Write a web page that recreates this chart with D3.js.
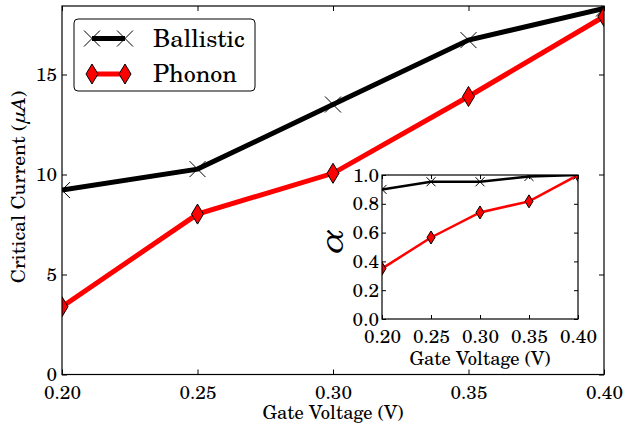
<!DOCTYPE html>
<html>
<head>
<meta charset="utf-8">
<script src="https://cdn.jsdelivr.net/npm/d3@7"></script>
<style>
  body { margin: 0; background: #fff; }
  svg text { font-family: "TeX Gyre Schola", "DejaVu Serif", serif; fill: #000; }
</style>
</head>
<body>
<svg id="chart" width="626" height="429"></svg>
<script>
const gateVoltage = [0.20, 0.25, 0.30, 0.35, 0.40];
const ballistic = [9.22, 10.27, 13.5, 16.72, 18.3];
const phonon = [3.39, 8.02, 10.06, 13.9, 17.9];
const alphaBallistic = [0.90, 0.953, 0.953, 0.99, 1.0];
const alphaPhonon = [0.35, 0.566, 0.74, 0.817, 1.0];
const xTicks = [0.20, 0.25, 0.30, 0.35, 0.40];
const yTicks = [0, 5, 10, 15];
const alphaTicks = [0.0, 0.2, 0.4, 0.6, 0.8, 1.0];

const FONT = '"TeX Gyre Schola", "DejaVu Serif", serif';
const svg = d3.select("#chart");

function drawPanel(opts) {
    const x = d3.scaleLinear().domain([0.20, 0.40]).range([opts.left, opts.right]);
    const y = d3.scaleLinear().domain(opts.yDomain).range([opts.bottom, opts.top]);
    const w = opts.right - opts.left, h = opts.bottom - opts.top;

    svg.append("rect")
        .attr("x", opts.left).attr("y", opts.top)
        .attr("width", w).attr("height", h)
        .attr("fill", "#fff");

    const clipId = opts.id + "-clip";
    svg.append("clipPath").attr("id", clipId)
        .append("rect")
        .attr("x", opts.left).attr("y", opts.top)
        .attr("width", w).attr("height", h);

    const plot = svg.append("g").attr("clip-path", `url(#${clipId})`);

    // ticks point inwards on all four sides
    const tl = opts.tickLen;
    const bottomAxis = d3.axisBottom(x).tickValues(xTicks).tickSize(-tl).tickPadding(opts.xPad).tickFormat(d3.format(".2f"));
    const topAxis = d3.axisTop(x).tickValues(xTicks).tickSize(-tl).tickFormat("");
    const leftAxis = d3.axisLeft(y).tickValues(opts.yTicks).tickSize(-tl).tickPadding(opts.yPad).tickFormat(opts.yFormat);
    const rightAxis = d3.axisRight(y).tickValues(opts.yTicks).tickSize(-tl).tickFormat("");

    const axes = [
        [bottomAxis, `translate(0,${opts.bottom})`],
        [topAxis, `translate(0,${opts.top})`],
        [leftAxis, `translate(${opts.left},0)`],
        [rightAxis, `translate(${opts.right},0)`]
    ];
    axes.forEach(([ax, tr]) => {
        const g = svg.append("g").attr("transform", tr).call(ax);
        g.select(".domain").remove();
        g.selectAll("line").attr("stroke", "#000").attr("stroke-width", 1);
        g.selectAll("text")
            .style("font-family", FONT)
            .style("font-size", "19px");
    });

    const line = d3.line().x((d, i) => x(gateVoltage[i])).y(d => y(d));

    plot.append("path").datum(opts.black)
        .attr("d", line).attr("fill", "none")
        .attr("stroke", "#000").attr("stroke-width", opts.lw);
    plot.append("path").datum(opts.red)
        .attr("d", line).attr("fill", "none")
        .attr("stroke", "#ff0000").attr("stroke-width", opts.lw);

    const xs = opts.xSize;
    plot.selectAll(null).data(opts.black).enter().append("path")
        .attr("transform", (d, i) => `translate(${x(gateVoltage[i])},${y(d)})`)
        .attr("d", `M${-xs},${-xs}L${xs},${xs}M${-xs},${xs}L${xs},${-xs}`)
        .attr("stroke", "#000").attr("stroke-width", 1).attr("fill", "none");

    const dw = opts.dW, dh = opts.dH;
    plot.selectAll(null).data(opts.red).enter().append("path")
        .attr("transform", (d, i) => `translate(${x(gateVoltage[i])},${y(d)})`)
        .attr("d", `M0,${-dh}L${dw},0L0,${dh}L${-dw},0Z`)
        .attr("fill", "#ff0000").attr("stroke", "#000").attr("stroke-width", 1);

    svg.append("rect")
        .attr("x", opts.left).attr("y", opts.top)
        .attr("width", w).attr("height", h)
        .attr("fill", "none").attr("stroke", "#000").attr("stroke-width", 1.2);

    return { x, y };
}

// main axes
drawPanel({
    id: "main", left: 62, right: 604, top: 6, bottom: 374.5,
    yDomain: [0, 18.425], yTicks: yTicks, yFormat: d3.format("d"),
    black: ballistic, red: phonon, lw: 5, xSize: 8, dW: 6, dH: 10,
    tickLen: 5, xPad: 11, yPad: 5
});

// main labels
svg.append("text")
    .attr("x", 333).attr("y", 419)
    .attr("text-anchor", "middle")
    .style("font-size", "18.5px")
    .text("Gate Voltage (V)");

const yl = svg.append("text")
    .attr("transform", "translate(24.5,187) rotate(-90)")
    .attr("text-anchor", "middle")
    .style("font-size", "19.5px");
yl.append("tspan").text("Critical Current (");
yl.append("tspan").style("font-style", "italic").text("μA");
yl.append("tspan").text(")");

// legend
const legend = svg.append("g");
legend.append("rect")
    .attr("x", 74).attr("y", 19).attr("width", 181).attr("height", 72)
    .attr("rx", 4).attr("fill", "#fff").attr("stroke", "#000").attr("stroke-width", 1);

const legendItems = [
    { label: "Ballistic", color: "#000", marker: "x", yPos: 38.5, base: 46.7 },
    { label: "Phonon", color: "#ff0000", marker: "d", yPos: 74, base: 81.7 }
];
legendItems.forEach(item => {
    legend.append("line")
        .attr("x1", 92).attr("x2", 125)
        .attr("y1", item.yPos).attr("y2", item.yPos)
        .attr("stroke", item.color).attr("stroke-width", 5);
    [92, 125].forEach(px => {
        if (item.marker === "x") {
            legend.append("path")
                .attr("d", `M${px - 8},${item.yPos - 8}L${px + 8},${item.yPos + 8}M${px - 8},${item.yPos + 8}L${px + 8},${item.yPos - 8}`)
                .attr("stroke", "#000").attr("stroke-width", 1);
        } else {
            legend.append("path")
                .attr("d", `M${px},${item.yPos - 10}L${px + 6},${item.yPos}L${px},${item.yPos + 10}L${px - 6},${item.yPos}Z`)
                .attr("fill", "#ff0000").attr("stroke", "#000").attr("stroke-width", 1);
        }
    });
    legend.append("text")
        .attr("x", 153).attr("y", item.base)
        .style("font-size", "24px")
        .text(item.label);
});

// inset
drawPanel({
    id: "inset", left: 382, right: 578, top: 175, bottom: 319,
    yDomain: [0, 1], yTicks: alphaTicks, yFormat: d3.format(".1f"),
    black: alphaBallistic, red: alphaPhonon, lw: 2.5, xSize: 4.5, dW: 4, dH: 6.5,
    tickLen: 4, xPad: 10.5, yPad: 3
});

svg.append("text")
    .attr("x", 480).attr("y", 364.5)
    .attr("text-anchor", "middle")
    .style("font-size", "18.5px")
    .text("Gate Voltage (V)");

svg.append("text")
    .attr("transform", "translate(343,243) rotate(-90)")
    .attr("text-anchor", "middle")
    .style("font-size", "32px").style("font-style", "italic")
    .text("α");
</script>
</body>
</html>
